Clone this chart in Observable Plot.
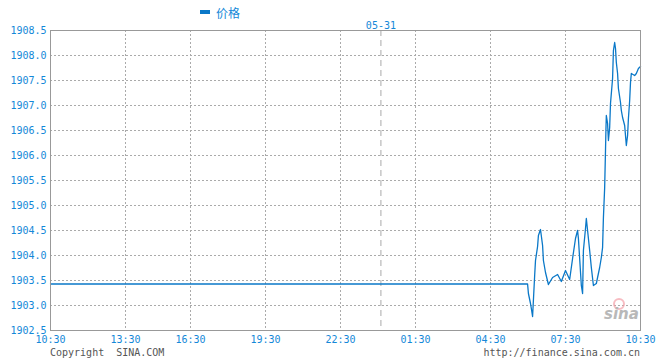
<!DOCTYPE html>
<html>
<head>
<meta charset="utf-8">
<script src="https://cdn.jsdelivr.net/npm/d3@7"></script>
<script src="https://cdn.jsdelivr.net/npm/@observablehq/plot@0.6"></script>
<style>
  html, body { margin: 0; padding: 0; background: #fff; }
  #chart svg { display: block; }
</style>
</head>
<body>
<div id="chart"></div>
<script>
// X position is the chart's minute slot from the 10:30 start (axis has a short break after 13:30)
const tickPos = [0, 180, 336, 516, 696, 876, 1056, 1236, 1416];
const tickLabels = ["10:30", "13:30", "16:30", "19:30", "22:30", "01:30", "04:30", "07:30", "10:30"];
const yTicks = [1902.5, 1903.0, 1903.5, 1904.0, 1904.5, 1905.0, 1905.5, 1906.0, 1906.5, 1907.0, 1907.5, 1908.0, 1908.5];
const dayBreak = 793;
const dayLabel = "05-31";
const seriesName = "价格";

const slot = [0, 1145, 1147, 1152, 1154, 1157, 1162, 1164, 1169, 1171, 1176, 1181, 1183, 1188, 1195, 1205, 1217, 1226, 1236, 1246, 1253, 1260, 1265, 1267, 1274, 1277, 1279, 1284, 1286, 1289, 1294, 1298, 1303, 1310, 1313, 1318, 1322, 1325, 1327, 1330, 1332, 1333, 1334, 1337, 1339, 1342, 1344, 1349, 1351, 1354, 1356, 1358, 1361, 1363, 1368, 1370, 1373, 1378, 1380, 1382, 1385, 1387, 1390, 1392, 1394, 1402, 1406, 1411, 1416];
const price = [1903.43, 1903.43, 1903.24, 1903.04, 1902.94, 1902.78, 1903.60, 1903.90, 1904.18, 1904.40, 1904.52, 1904.20, 1903.90, 1903.66, 1903.42, 1903.56, 1903.62, 1903.48, 1903.70, 1903.52, 1903.94, 1904.34, 1904.50, 1904.34, 1903.40, 1903.24, 1904.10, 1904.54, 1904.74, 1904.50, 1904.10, 1903.76, 1903.40, 1903.44, 1903.56, 1903.76, 1903.96, 1904.16, 1904.76, 1905.36, 1906.10, 1906.50, 1906.80, 1906.64, 1906.30, 1906.56, 1907.04, 1907.54, 1908.10, 1908.26, 1908.14, 1907.86, 1907.64, 1907.34, 1907.06, 1906.90, 1906.76, 1906.60, 1906.40, 1906.20, 1906.40, 1906.74, 1907.10, 1907.46, 1907.64, 1907.60, 1907.64, 1907.74, 1907.78];

const data = slot.map((t, i) => ({t, p: price[i]}));

const blue = "#0a78c8";
const labelBlue = "#1488d8";
const gridGray = "#aaaaaa";

const chart = Plot.plot({
  width: 660,
  height: 360,
  marginLeft: 50,
  marginRight: 20,
  marginTop: 30,
  marginBottom: 30,
  style: {fontFamily: "'DejaVu Sans Mono', monospace", fontSize: "10px", background: "#fff", overflow: "visible"},
  x: {domain: [0, 1416]},
  y: {domain: [1902.5, 1908.5]},
  marks: [
    Plot.gridY(yTicks.slice(1, -1), {stroke: gridGray, strokeOpacity: 1, strokeDasharray: "2,2"}),
    Plot.gridX(tickPos.slice(1, -1), {stroke: gridGray, strokeOpacity: 1, strokeDasharray: "2,2"}),
    Plot.ruleX([dayBreak], {stroke: gridGray, strokeDasharray: "6,4"}),
    Plot.line(data, {x: "t", y: "p", stroke: blue, strokeWidth: 1.3}),
    Plot.frame({stroke: "#999"}),
    Plot.axisY(yTicks, {tickSize: 0, tickPadding: 4, tickFormat: d => d.toFixed(1), fill: labelBlue, label: null}),
    Plot.axisX(tickPos, {tickSize: 0, tickPadding: 5, tickFormat: d => tickLabels[tickPos.indexOf(d)], fill: labelBlue, label: null}),
    Plot.text([{t: dayBreak, label: dayLabel}], {x: "t", text: "label", frameAnchor: "top", dy: -9, fill: labelBlue})
  ]
});

const svg = d3.select(chart);
// legend
svg.append("rect").attr("x", 200).attr("y", 10).attr("width", 10).attr("height", 4).attr("fill", blue);
svg.append("text").attr("x", 216).attr("y", 14).attr("dy", "0.35em").attr("text-anchor", "start")
  .attr("font-family", "'Noto Sans CJK SC', sans-serif").attr("font-size", 12).attr("fill", labelBlue)
  .text(seriesName);
// footer texts
svg.append("text").attr("x", 50).attr("y", 352).attr("dy", "0.35em").attr("text-anchor", "start").attr("fill", "#555")
  .attr("font-size", 10).text("Copyright  SINA.COM");
svg.append("text").attr("x", 640).attr("y", 352).attr("dy", "0.35em").attr("text-anchor", "end").attr("fill", "#555")
  .attr("font-size", 10).text("http://finance.sina.com.cn");
// watermark
svg.append("circle").attr("cx", 619).attr("cy", 304).attr("r", 5).attr("fill", "none").attr("stroke", "#f4a0a8").attr("stroke-width", 2).attr("opacity", 0.7);
svg.append("text").attr("x", 604).attr("y", 319).attr("text-anchor", "start").attr("fill", "#b8b8b8").attr("font-family", "'DejaVu Sans', sans-serif")
  .attr("font-style", "italic").attr("font-weight", "bold").attr("font-size", 15).text("sina");

document.getElementById("chart").appendChild(chart);
</script>
</body>
</html>
